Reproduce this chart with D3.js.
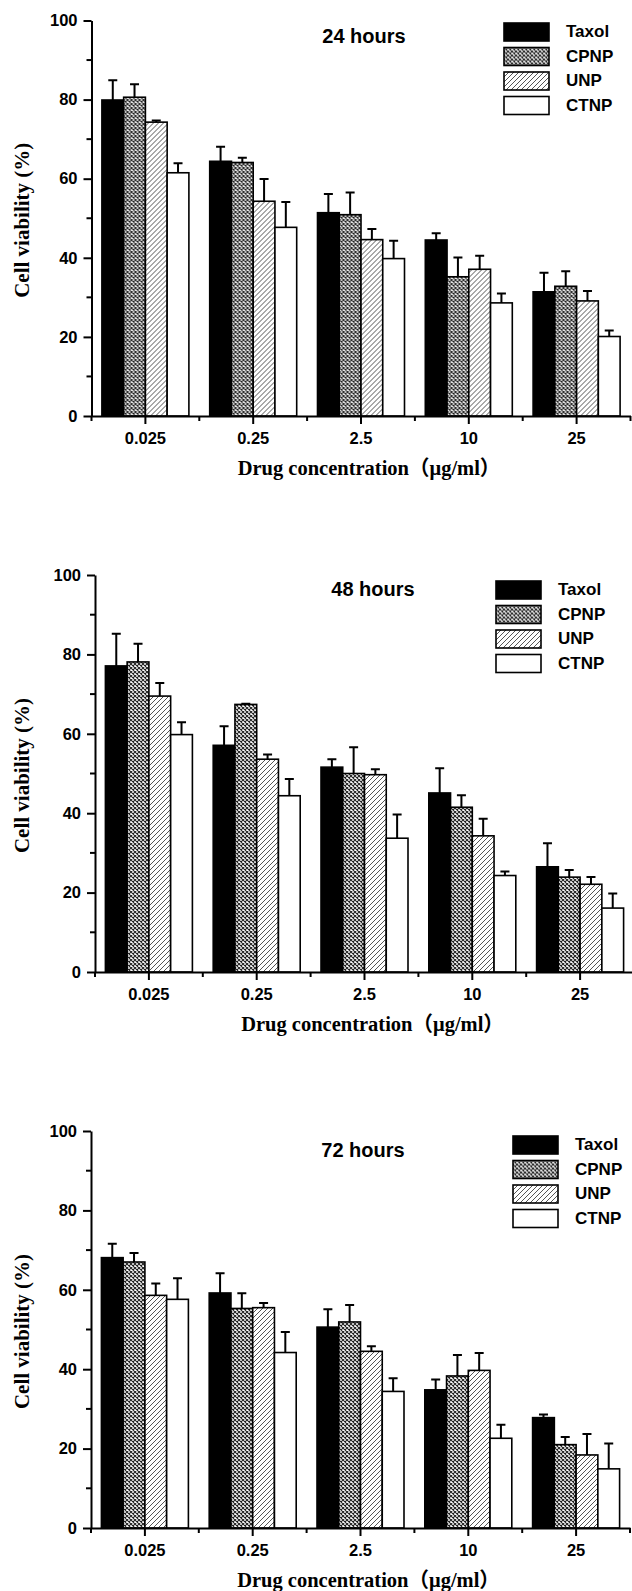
<!DOCTYPE html>
<html>
<head>
<meta charset="utf-8">
<script src="https://cdn.jsdelivr.net/npm/d3@7"></script>
<style>
  body { margin: 0; background: #fff; }
  .tick text { font-family: "Liberation Sans", Arial, sans-serif; font-weight: bold; font-size: 16.5px; fill: #000; }
  .tick line, .domain { stroke: #000; stroke-width: 2; }
  .serif-title { font-family: "Liberation Serif", "Times New Roman", "Noto Sans CJK SC", serif; font-weight: bold; fill: #000; }
  .sans-bold { font-family: "Liberation Sans", Arial, sans-serif; font-weight: bold; fill: #000; }
</style>
</head>
<body>
<div id="chart"></div>
<script>
const concentrations = ['0.025', '0.25', '2.5', '10', '25'];
const seriesNames = ['Taxol', 'CPNP', 'UNP', 'CTNP'];
const yTicks = [0, 20, 40, 60, 80, 100];
const yMinorTicks = [10, 30, 50, 70, 90];
const panelTitles = ['24 hours', '48 hours', '72 hours'];

// one row per series (Taxol, CPNP, UNP, CTNP), one column per concentration
const mean24 = [
  [79.9, 64.4, 51.4, 44.5, 31.4],
  [80.6, 64.1, 50.9, 35.2, 32.8],
  [74.3, 54.3, 44.6, 37.1, 29.1],
  [61.5, 47.7, 39.8, 28.6, 20.1]
];
const err24 = [
  [5.0, 3.7, 4.7, 1.7, 4.8],
  [3.3, 1.2, 5.6, 4.9, 3.8],
  [0.4, 5.6, 2.7, 3.4, 2.5],
  [2.4, 6.4, 4.5, 2.4, 1.5]
];
const mean48 = [
  [77.1, 57.1, 51.6, 45.1, 26.5],
  [78.1, 67.4, 50.0, 41.5, 23.9],
  [69.5, 53.6, 49.7, 34.3, 22.1],
  [59.8, 44.4, 33.7, 24.3, 16.1]
];
const err48 = [
  [8.1, 4.8, 2.0, 6.2, 5.9],
  [4.6, 0.2, 6.6, 3.0, 1.8],
  [3.3, 1.2, 1.4, 4.3, 1.8],
  [3.1, 4.2, 6.0, 1.0, 3.7]
];
const mean72 = [
  [68.1, 59.2, 50.6, 34.8, 27.8],
  [67.0, 55.3, 51.9, 38.3, 21.0],
  [58.6, 55.5, 44.5, 39.7, 18.4],
  [57.6, 44.2, 34.4, 22.6, 14.9]
];
const err72 = [
  [3.5, 5.0, 4.5, 2.6, 0.8],
  [2.3, 3.8, 4.3, 5.3, 1.9],
  [3.0, 1.2, 1.3, 4.4, 5.3],
  [5.3, 5.2, 3.3, 3.4, 6.4]
];

// panel placement on the page
const panels = [
  { title: panelTitles[0], mean: mean24, err: err24, left: 91.5, top: 20.5, bottom: 416, legendX: 504, legendY: 23, titleX: 364, titleY: 36 },
  { title: panelTitles[1], mean: mean48, err: err48, left: 95, top: 575, bottom: 972, legendX: 496, legendY: 581, titleX: 373, titleY: 589 },
  { title: panelTitles[2], mean: mean72, err: err72, left: 91, top: 1131, bottom: 1528, legendX: 513, legendY: 1136, titleX: 363, titleY: 1150 }
];

const W = 632, H = 1591, plotW = 539;

const svg = d3.select('#chart').append('svg')
  .attr('width', W)
  .attr('height', H);

const defs = svg.append('defs');

const cross = defs.append('pattern')
  .attr('id', 'crosshatch')
  .attr('patternUnits', 'userSpaceOnUse')
  .attr('width', 4).attr('height', 4);
cross.append('rect').attr('width', 4).attr('height', 4).attr('fill', '#fff');
cross.append('path').attr('d', 'M0,0L4,4M4,0L0,4')
  .attr('stroke', '#222').attr('stroke-width', 1.1);

const hatch = defs.append('pattern')
  .attr('id', 'hatch')
  .attr('patternUnits', 'userSpaceOnUse')
  .attr('width', 5).attr('height', 5);
hatch.append('rect').attr('width', 5).attr('height', 5).attr('fill', '#fff');
hatch.append('path').attr('d', 'M-1,1L1,-1M0,5L5,0M4,6L6,4')
  .attr('stroke', '#555').attr('stroke-width', 1);

const fills = { Taxol: '#000', CPNP: 'url(#crosshatch)', UNP: 'url(#hatch)', CTNP: '#fff' };

panels.forEach(p => {
  const g = svg.append('g').attr('transform', `translate(${p.left},0)`);

  const x = d3.scaleBand().domain(concentrations).range([0, plotW])
    .paddingInner(0.193).paddingOuter(0.0965);
  const xs = d3.scaleBand().domain(seriesNames).range([0, x.bandwidth()]);
  const y = d3.scaleLinear().domain([0, 100]).range([p.bottom, p.top]);

  const rows = [];
  seriesNames.forEach((s, si) => {
    concentrations.forEach((c, ci) => {
      rows.push({ s, c, v: p.mean[si][ci], e: p.err[si][ci] });
    });
  });

  // bars
  g.selectAll('.bar').data(rows).enter().append('rect')
    .attr('class', 'bar')
    .attr('x', d => x(d.c) + xs(d.s))
    .attr('y', d => y(d.v))
    .attr('width', xs.bandwidth())
    .attr('height', d => y(0) - y(d.v))
    .attr('fill', d => fills[d.s])
    .attr('stroke', '#000')
    .attr('stroke-width', 1.6);

  // upper error whiskers
  const cx = d => x(d.c) + xs(d.s) + xs.bandwidth() / 2;
  g.selectAll('.err').data(rows).enter().append('path')
    .attr('class', 'err')
    .attr('d', d => `M${cx(d)},${y(d.v)}V${y(d.v + d.e)}M${cx(d) - 4.5},${y(d.v + d.e)}H${cx(d) + 4.5}`)
    .attr('fill', 'none')
    .attr('stroke', '#000')
    .attr('stroke-width', 2);

  // x axis
  g.append('g')
    .attr('transform', `translate(0,${p.bottom})`)
    .call(d3.axisBottom(x).tickSize(8).tickSizeOuter(0).tickPadding(8));

  const bounds = d3.range(concentrations.length + 1).map(i => i * x.step());
  g.append('g').selectAll('line').data(bounds).enter().append('line')
    .attr('x1', d => d).attr('x2', d => d)
    .attr('y1', p.bottom).attr('y2', p.bottom + 5)
    .attr('stroke', '#000').attr('stroke-width', 2);

  // y axis
  g.append('g')
    .call(d3.axisLeft(y).tickValues(yTicks).tickSize(8).tickSizeOuter(0).tickPadding(6));
  g.append('g').selectAll('line').data(yMinorTicks).enter().append('line')
    .attr('x1', -5).attr('x2', 0)
    .attr('y1', d => y(d)).attr('y2', d => y(d))
    .attr('stroke', '#000').attr('stroke-width', 2);

  // axis titles
  svg.append('text')
    .attr('class', 'serif-title')
    .attr('transform', `translate(22,${(p.top + p.bottom) / 2 + 2}) rotate(-90)`)
    .attr('text-anchor', 'middle')
    .attr('dominant-baseline', 'central')
    .style('font-size', '21px')
    .text('Cell viability (%)');

  svg.append('text')
    .attr('class', 'serif-title')
    .attr('x', p.left + plotW / 2 + 8)
    .attr('y', p.bottom + 52)
    .attr('text-anchor', 'middle')
    .attr('dominant-baseline', 'central')
    .style('font-size', '20.5px')
    .text('Drug concentration（μg/ml）');

  // panel title
  svg.append('text')
    .attr('class', 'sans-bold')
    .attr('x', p.titleX)
    .attr('y', p.titleY)
    .attr('text-anchor', 'middle')
    .attr('dominant-baseline', 'central')
    .style('font-size', '20px')
    .text(p.title);

  // legend
  const lg = svg.append('g').attr('transform', `translate(${p.legendX},${p.legendY})`);
  const items = lg.selectAll('g').data(seriesNames).enter().append('g')
    .attr('transform', (d, i) => `translate(0,${i * 24.5})`);
  items.append('rect')
    .attr('width', 45).attr('height', 18)
    .attr('fill', d => fills[d])
    .attr('stroke', '#000').attr('stroke-width', 1.6);
  items.append('text')
    .attr('class', 'sans-bold')
    .attr('x', 62).attr('y', 8.5)
    .attr('dominant-baseline', 'central')
    .style('font-size', '17px')
    .text(d => d);
});
</script>
</body>
</html>
